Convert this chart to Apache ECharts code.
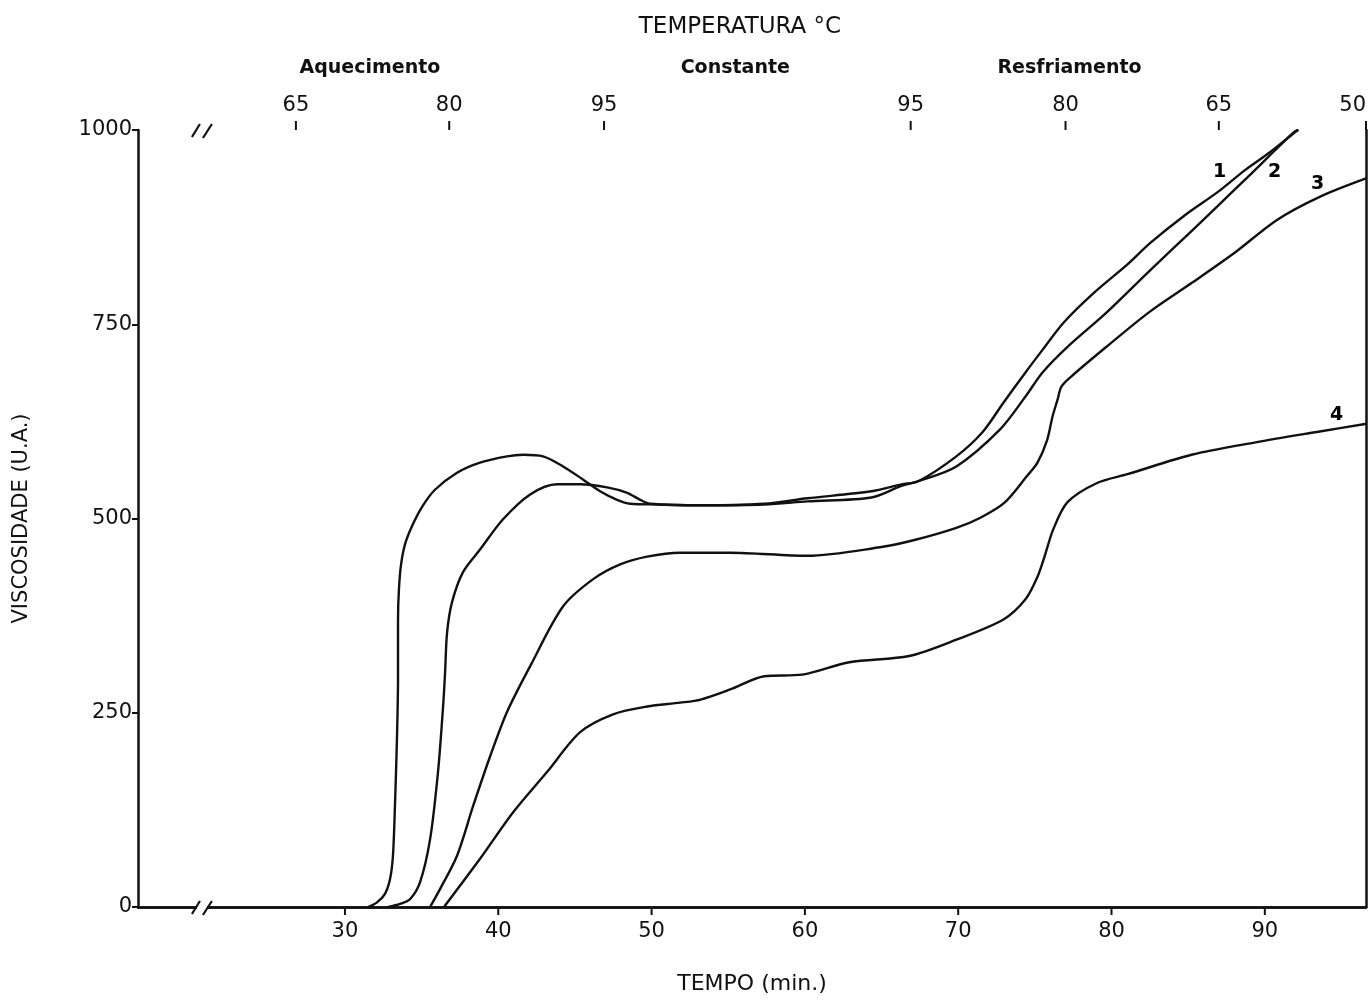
<!DOCTYPE html>
<html><head><meta charset="utf-8">
<script src="https://cdn.jsdelivr.net/npm/echarts@6/dist/echarts.min.js"></script>
<style>html,body{margin:0;padding:0;background:#fff}#c{width:1370px;height:1000px}</style>
</head><body><div id="c"></div>
<script>
// ---- data (time in minutes, viscosity in U.A.) ----
const curve1 = [[31.5,0],[32.09,6],[32.61,17],[32.94,36],[33.13,66],[33.26,130],[33.39,216],[33.46,293],[33.46,370],[33.52,409],[33.66,441],[33.92,467],[34.37,490],[35.03,515],[35.87,537],[37.31,559],[38.81,572],[40.57,580],[41.62,582],[42.92,580],[44.23,567],[45.54,550],[46.64,535],[47.75,524],[48.6,519],[50.5,518],[53.2,517],[57.35,519],[60.16,526],[64.33,535],[66.3,544],[67.4,548],[69.88,580],[71.58,611],[72.95,649],[74.39,688],[75.5,717],[76.87,752],[78.83,790],[81.04,827],[82.55,855],[84.83,891],[86.92,920],[88.75,949],[90.38,972],[92.14,1000]];
const curve2 = [[32.81,0],[33.59,4],[34.24,10],[34.9,32],[35.55,87],[36.07,174],[36.4,258],[36.53,302],[36.66,353],[36.98,392],[37.7,431],[38.81,460],[40.31,499],[42.08,531],[43.84,544],[45.34,544],[47.1,540],[48.41,533],[49.26,524],[49.9,519],[53.2,517],[57.35,518],[60.16,522],[64.33,527],[66.3,542],[67.4,548],[69.88,567],[72.7,614],[74.39,657],[75.5,688],[77.13,721],[79.67,765],[82.55,820],[85.22,870],[86.92,902],[89.07,943],[90.57,972],[91.88,997],[92.2,1000]];
const curve3 = [[35.55,0],[36.2,23],[37.31,66],[38.36,130],[39.47,194],[40.57,251],[42.08,310],[44.23,387],[46.19,422],[47.95,441],[49.71,451],[51.87,456],[55.13,456],[60.16,452],[64.9,463],[67.08,472],[69.88,488],[71.45,501],[73.0,520],[74.5,555],[75.17,572],[75.8,601],[76.15,631],[76.48,653],[76.74,670],[77.39,683],[79.67,721],[82.42,765],[85.22,803],[88.03,842],[90.77,884],[93.58,914],[96.64,938]];
const curve4 = [[36.46,0],[38.81,62],[40.97,122],[43.19,174],[45.34,225],[47.49,248],[49.71,258],[51.87,263],[53.2,267],[55.13,280],[57.35,297],[59.83,299],[62.9,315],[66.8,323],[69.88,344],[72.95,370],[74.39,396],[75.17,425],[75.63,451],[76.2,486],[77.13,521],[79.09,546],[81.04,557],[85.22,582],[89.4,598],[93.58,612],[96.64,622]];
const curveNames = ['1','2','3','4'];
const curveLabelX = [87.05, 90.64, 93.45, 94.69];
const curveLabelY = [946, 946, 930, 633];

const tempoTicks = [30,40,50,60,70,80,90];
const topTickMinutes = [26.8,36.8,46.9,66.9,77.0,87.0,96.6];
const topTickLabels = ['65','80','95','95','80','65','50'];
const phaseMinutes = [31.63,55.46,77.26];
const phaseLabels = ['Aquecimento','Constante','Resfriamento'];
const axisBreakAt = 20.67;
const xMin = 16.5, xMax = 96.6, yMin = 0, yMax = 1000;

// ---- chart ----
const FONT = 'DejaVu Sans';
const INK = '#111';
const chart = echarts.init(document.getElementById('c'));
const lineStyle = {color: INK, width: 2.4};
const curves = [curve1, curve2, curve3, curve4];

function nearestLabel(v, vals, labels){
  let bi = 0, bd = Infinity;
  vals.forEach((x,i)=>{const d=Math.abs(x-v); if(d<bd){bd=d;bi=i;}});
  return labels[bi];
}

// decoration rows: [x, y, kind]  kind 1 = top tick, 2 = axis break, 3 = bottom tick + label
const decorRows = [
  ...topTickMinutes.map(v => [v, yMax, 1]),
  [axisBreakAt, yMin, 2], [axisBreakAt, yMax, 2],
  ...tempoTicks.map(v => [v, yMin, 3])
];
const labelRows = curveNames.map((n, i) => [curveLabelX[i], curveLabelY[i], i]);

const option = {
  animation: false,
  backgroundColor: '#fff',
  grid: {left: 138, right: 4, top: 130, bottom: 92, containLabel: false},
  graphic: [{
    type: 'text', x: 740, y: 27,
    style: {text: 'TEMPERATURA °C', font: '23px "DejaVu Sans"', fill: INK, textAlign: 'center', textVerticalAlign: 'middle'}
  }],
  xAxis: [
    {
      type: 'value', position: 'bottom', min: xMin, max: xMax,
      axisLine: {show: true, lineStyle: {color: INK, width: 2.5}},
      axisTick: {show: false},
      axisLabel: {show: false},
      splitLine: {show: false},
      name: 'TEMPO (min.)', nameLocation: 'middle', nameGap: 66,
      nameTextStyle: {fontSize: 22, fontFamily: FONT, color: INK}
    },
    {
      type: 'value', position: 'top', min: xMin, max: xMax,
      axisLine: {show: true, lineStyle: {color: INK, width: 2.5}},
      axisTick: {show: false},
      axisLabel: {customValues: topTickMinutes, fontSize: 21, fontFamily: FONT, color: INK, margin: 14,
        alignMaxLabel: 'right',
        formatter: v => nearestLabel(v, topTickMinutes, topTickLabels)},
      splitLine: {show: false}
    },
    {
      type: 'value', position: 'top', min: xMin, max: xMax, offset: 38,
      axisLine: {show: false}, axisTick: {show: false},
      axisLabel: {customValues: phaseMinutes, fontSize: 19, fontFamily: FONT, color: INK, fontWeight: 'bold', margin: 14,
        formatter: v => nearestLabel(v, phaseMinutes, phaseLabels)},
      splitLine: {show: false}
    }
  ],
  yAxis: [
    {
      type: 'value', min: yMin, max: yMax, interval: 250,
      axisLine: {show: true, lineStyle: {color: INK, width: 2.5}},
      axisTick: {show: true, length: 6, lineStyle: {color: INK, width: 2}},
      axisLabel: {fontSize: 21, fontFamily: FONT, color: INK, margin: 6, formatter: v => String(v)},
      splitLine: {show: false},
      name: 'VISCOSIDADE (U.A.)', nameLocation: 'middle', nameGap: 106, nameRotate: 90,
      nameTextStyle: {fontSize: 21, fontFamily: FONT, color: INK}
    },
    {
      type: 'value', position: 'right', min: yMin, max: yMax,
      axisLine: {show: true, lineStyle: {color: INK, width: 2.5}},
      axisTick: {show: false}, axisLabel: {show: false}, splitLine: {show: false}
    }
  ],
  series: [
    ...curves.map((d, i) => ({
      name: curveNames[i], type: 'line', data: d, xAxisIndex: 0, yAxisIndex: 0,
      showSymbol: false, symbol: 'none', smooth: 0.3, lineStyle, z: 3
    })),
    {
      name: 'labels', type: 'custom', xAxisIndex: 0, yAxisIndex: 0, clip: false, silent: true, z: 6,
      data: labelRows,
      renderItem: (params, api) => {
        const p = api.coord([api.value(0), api.value(1)]);
        return {type: 'text', x: p[0], y: p[1],
          style: {text: curveNames[api.value(2)], font: 'bold 19px "DejaVu Sans"', fill: '#000',
            textAlign: 'center', textVerticalAlign: 'middle'}};
      }
    },
    {
      name: 'decor', type: 'custom', xAxisIndex: 0, yAxisIndex: 0, clip: false, silent: true, z: 10,
      data: decorRows,
      renderItem: (params, api) => {
        const x = api.value(0), y = api.value(1), kind = api.value(2);
        const p = api.coord([x, y]);
        const s = {stroke: INK, lineWidth: 2.2};
        if (kind === 1) {
          return {type: 'rect', shape: {x: p[0] - 1, y: p[1] - 9, width: 2, height: 9}, style: {fill: INK}};
        }
        if (kind === 3) {
          return {type: 'group', children: [
            {type: 'rect', shape: {x: p[0] - 1, y: p[1], width: 2, height: 8}, style: {fill: INK}},
            {type: 'text', x: p[0], y: p[1] + 25,
              style: {text: String(x), font: '21px "DejaVu Sans"', fill: INK, textAlign: 'center', textVerticalAlign: 'middle'}}
          ]};
        }
        return {type: 'group', children: [
          {type: 'rect', shape: {x: p[0]-5, y: p[1]-3, width: 10, height: 6}, style: {fill: '#fff'}},
          {type: 'line', shape: {x1: p[0]-10, y1: p[1]+7, x2: p[0]-2, y2: p[1]-6}, style: s},
          {type: 'line', shape: {x1: p[0]+1, y1: p[1]+8, x2: p[0]+10, y2: p[1]-6}, style: s}
        ]};
      }
    }
  ]
};
chart.setOption(option);
</script>
</body></html>
